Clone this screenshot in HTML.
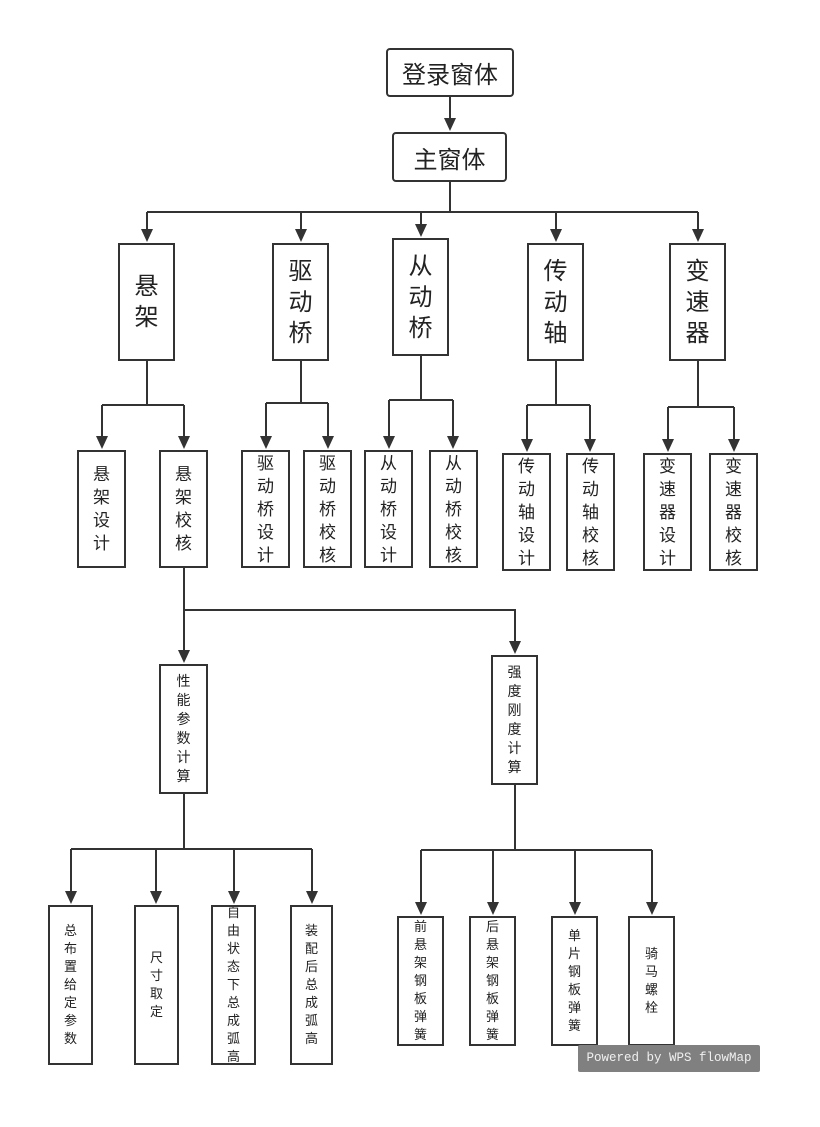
<!DOCTYPE html>
<html><head><meta charset="utf-8"><style>
body{margin:0;background:#fff;}
#c{position:relative;width:820px;height:1127px;overflow:hidden;font-family:"Liberation Sans","Noto Sans CJK SC",sans-serif;color:#222;}
.b{position:absolute;box-sizing:border-box;border:2px solid #333;background:#fff;display:flex;align-items:center;justify-content:center;text-align:center;overflow:hidden;}
.r{border-radius:4px;}
.l2{font-size:24px;line-height:31px;}
.l3{font-size:17px;line-height:23px;}
.l4{font-size:14px;line-height:19px;}
.l5{font-size:13px;line-height:18px;}
svg{position:absolute;left:0;top:0;}
#wm{position:absolute;left:578px;top:1045px;width:182px;height:27px;background:#808080;color:#f0f0f0;font-family:"Liberation Mono",monospace;font-size:12.5px;line-height:27px;text-align:center;border-radius:2px;}
</style></head><body><div id="c">
<svg width="820" height="1127" fill="none" stroke="#333" stroke-width="2">
<g>
<path d="M450 97V120M450 182V212M147 212H698M147 212V231M301 212V231M421 212V226M556 212V231M698 212V231"/>
<path d="M147 361V405M102 405H184M102 405V438M184 405V438"/>
<path d="M301 361V403M266 403H328M266 403V438M328 403V438"/>
<path d="M421 356V400M389 400H453M389 400V438M453 400V438"/>
<path d="M556 361V405M527 405H590M527 405V441M590 405V441"/>
<path d="M698 361V407M668 407H734M668 407V441M734 407V441"/>
<path d="M184 568V610H515V643M184 610V652"/>
<path d="M184 794V849M71 849H312M71 849V893M156 849V893M234 849V893M312 849V893"/>
<path d="M515 785V850M421 850H652M421 850V904M493 850V904M575 850V904M652 850V904"/>
</g>
<g fill="#333" stroke="none">
<polygon points="444,118 456,118 450,131"/>
<polygon points="141,229 153,229 147,242"/>
<polygon points="295,229 307,229 301,242"/>
<polygon points="415,224 427,224 421,237"/>
<polygon points="550,229 562,229 556,242"/>
<polygon points="692,229 704,229 698,242"/>
<polygon points="96,436 108,436 102,449"/>
<polygon points="178,436 190,436 184,449"/>
<polygon points="260,436 272,436 266,449"/>
<polygon points="322,436 334,436 328,449"/>
<polygon points="383,436 395,436 389,449"/>
<polygon points="447,436 459,436 453,449"/>
<polygon points="521,439 533,439 527,452"/>
<polygon points="584,439 596,439 590,452"/>
<polygon points="662,439 674,439 668,452"/>
<polygon points="728,439 740,439 734,452"/>
<polygon points="178,650 190,650 184,663"/>
<polygon points="509,641 521,641 515,654"/>
<polygon points="65,891 77,891 71,904"/>
<polygon points="150,891 162,891 156,904"/>
<polygon points="228,891 240,891 234,904"/>
<polygon points="306,891 318,891 312,904"/>
<polygon points="415,902 427,902 421,915"/>
<polygon points="487,902 499,902 493,915"/>
<polygon points="569,902 581,902 575,915"/>
<polygon points="646,902 658,902 652,915"/>
</g>
</svg>
<div class="b r" style="left:386px;top:48px;width:128px;height:49px;font-size:24px;">登录窗体</div>
<div class="b r" style="left:392px;top:132px;width:115px;height:50px;font-size:24px;">主窗体</div>
<div class="b l2" style="left:118px;top:243px;width:57px;height:118px;">悬<br>架</div>
<div class="b l2" style="left:272px;top:243px;width:57px;height:118px;">驱<br>动<br>桥</div>
<div class="b l2" style="left:392px;top:238px;width:57px;height:118px;">从<br>动<br>桥</div>
<div class="b l2" style="left:527px;top:243px;width:57px;height:118px;">传<br>动<br>轴</div>
<div class="b l2" style="left:669px;top:243px;width:57px;height:118px;">变<br>速<br>器</div>
<div class="b l3" style="left:77px;top:450px;width:49px;height:118px;">悬<br>架<br>设<br>计</div>
<div class="b l3" style="left:159px;top:450px;width:49px;height:118px;">悬<br>架<br>校<br>核</div>
<div class="b l3" style="left:241px;top:450px;width:49px;height:118px;">驱<br>动<br>桥<br>设<br>计</div>
<div class="b l3" style="left:303px;top:450px;width:49px;height:118px;">驱<br>动<br>桥<br>校<br>核</div>
<div class="b l3" style="left:364px;top:450px;width:49px;height:118px;">从<br>动<br>桥<br>设<br>计</div>
<div class="b l3" style="left:429px;top:450px;width:49px;height:118px;">从<br>动<br>桥<br>校<br>核</div>
<div class="b l3" style="left:502px;top:453px;width:49px;height:118px;">传<br>动<br>轴<br>设<br>计</div>
<div class="b l3" style="left:566px;top:453px;width:49px;height:118px;">传<br>动<br>轴<br>校<br>核</div>
<div class="b l3" style="left:643px;top:453px;width:49px;height:118px;">变<br>速<br>器<br>设<br>计</div>
<div class="b l3" style="left:709px;top:453px;width:49px;height:118px;">变<br>速<br>器<br>校<br>核</div>
<div class="b l4" style="left:159px;top:664px;width:49px;height:130px;">性<br>能<br>参<br>数<br>计<br>算</div>
<div class="b l4" style="left:491px;top:655px;width:47px;height:130px;">强<br>度<br>刚<br>度<br>计<br>算</div>
<div class="b l5" style="left:48px;top:905px;width:45px;height:160px;">总<br>布<br>置<br>给<br>定<br>参<br>数</div>
<div class="b l5" style="left:134px;top:905px;width:45px;height:160px;">尺<br>寸<br>取<br>定</div>
<div class="b l5" style="left:211px;top:905px;width:45px;height:160px;">自<br>由<br>状<br>态<br>下<br>总<br>成<br>弧<br>高</div>
<div class="b l5" style="left:290px;top:905px;width:43px;height:160px;">装<br>配<br>后<br>总<br>成<br>弧<br>高</div>
<div class="b l5" style="left:397px;top:916px;width:47px;height:130px;">前<br>悬<br>架<br>钢<br>板<br>弹<br>簧</div>
<div class="b l5" style="left:469px;top:916px;width:47px;height:130px;">后<br>悬<br>架<br>钢<br>板<br>弹<br>簧</div>
<div class="b l5" style="left:551px;top:916px;width:47px;height:130px;">单<br>片<br>钢<br>板<br>弹<br>簧</div>
<div class="b l5" style="left:628px;top:916px;width:47px;height:130px;">骑<br>马<br>螺<br>栓</div>
<div id="wm">Powered by WPS flowMap</div>
</div></body></html>
